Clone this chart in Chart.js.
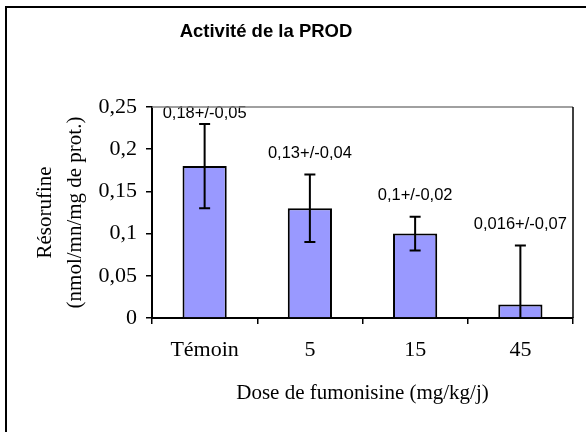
<!DOCTYPE html>
<html>
<head>
<meta charset="utf-8">
<script src="https://cdn.jsdelivr.net/npm/chart.js@4/dist/chart.umd.min.js"></script>
<style>
  html, body { margin: 0; padding: 0; background: #fff; }
  #wrap { width: 586px; height: 432px; position: relative; }
</style>
</head>
<body>
<div id="wrap"><canvas id="prod"></canvas></div>
<script>
// PROD activity per fumonisin dose
const doses = ['Témoin', '5', '15', '45'];
const means = [0.18, 0.13, 0.1, 0.016];
const errs = [0.05, 0.04, 0.02, 0.07];
const meanLabels = ['0,18+/-0,05', '0,13+/-0,04', '0,1+/-0,02', '0,016+/-0,07'];
const yTicks = [0, 0.05, 0.1, 0.15, 0.2, 0.25];
const chartTitle = 'Activité de la PROD';

const serif = 'Liberation Serif, Times New Roman, serif';
const sans = 'Liberation Sans, Arial, sans-serif';

// frame round the whole picture, title, box edges of the plot
const framePlugin = {
    id: 'frame',
    beforeDraw(chart) {
        const ctx = chart.ctx;
        ctx.save();
        ctx.fillStyle = '#fff';
        ctx.fillRect(0, 0, chart.width, chart.height);
        ctx.strokeStyle = '#000';
        ctx.lineWidth = 2;
        ctx.beginPath();
        ctx.moveTo(6, chart.height);
        ctx.lineTo(6, 7);
        ctx.lineTo(chart.width, 7);
        ctx.stroke();
        ctx.fillStyle = '#000';
        ctx.font = 'bold 18.5px ' + sans;
        ctx.textAlign = 'center';
        ctx.textBaseline = 'middle';
        ctx.fillText(chartTitle, 266, 32);
        ctx.restore();
    },
    afterDraw(chart) {
        const a = chart.chartArea, ctx = chart.ctx;
        ctx.save();
        ctx.lineWidth = 1.5;
        ctx.strokeStyle = '#808080';
        ctx.beginPath();
        ctx.moveTo(a.left, a.top);
        ctx.lineTo(a.right, a.top);
        ctx.stroke();
        ctx.strokeStyle = '#000';
        ctx.beginPath();
        ctx.moveTo(a.right, a.top);
        ctx.lineTo(a.right, a.bottom);
        ctx.stroke();
        ctx.restore();
    }
};

// error bars and the "mean+/-sd" text
const errorPlugin = {
    id: 'errbars',
    afterDatasetsDraw(chart) {
        const ctx = chart.ctx, y = chart.scales.y, a = chart.chartArea;
        const meta = chart.getDatasetMeta(0);
        ctx.save();
        ctx.strokeStyle = '#000';
        ctx.lineWidth = 2;
        meta.data.forEach((bar, i) => {
            const hi = means[i] + errs[i];
            const lo = Math.max(0, means[i] - errs[i]);
            const yHi = y.getPixelForValue(hi);
            const yLo = y.getPixelForValue(lo);
            ctx.beginPath();
            ctx.moveTo(bar.x, yHi);
            ctx.lineTo(bar.x, yLo);
            ctx.moveTo(bar.x - 5.5, yHi);
            ctx.lineTo(bar.x + 5.5, yHi);
            if (means[i] - errs[i] > 0) {
                ctx.moveTo(bar.x - 5.5, yLo);
                ctx.lineTo(bar.x + 5.5, yLo);
            }
            ctx.stroke();

            ctx.fillStyle = '#000';
            ctx.font = '16.5px ' + sans;
            ctx.textAlign = 'center';
            ctx.textBaseline = 'middle';
            const ty = Math.max(a.top + 6, yHi - 21);
            ctx.fillText(meanLabels[i], bar.x, ty);
        });
        ctx.restore();
    }
};

new Chart('prod', {
    type: 'bar',
    data: {
        labels: doses,
        datasets: [{
            data: means,
            backgroundColor: '#9999ff',
            borderColor: '#000',
            borderWidth: 2,
            barPercentage: 0.42,
            categoryPercentage: 1
        }]
    },
    plugins: [framePlugin, errorPlugin],
    options: {
        responsive: true,
        maintainAspectRatio: false,
        animation: false,
        layout: { padding: { left: 0, right: 13, top: 107, bottom: 0 } },
        plugins: {
            legend: { display: false },
            tooltip: { enabled: false },
            title: { display: false }
        },
        scales: {
            x: {
                afterFit(s) { s.height = 114; },
                grid: { offset: true, drawOnChartArea: false, color: '#000', tickLength: 6, lineWidth: 1.5 },
                border: { color: '#000', width: 2 },
                ticks: { color: '#000', padding: 13, font: { family: serif, size: 22, lineHeight: 1.2 } },
                title: {
                    display: true,
                    text: 'Dose de fumonisine (mg/kg/j)',
                    color: '#000',
                    font: { family: serif, size: 21, lineHeight: 1.2 },
                    padding: { top: 0, bottom: 26 }
                }
            },
            y: {
                min: 0,
                max: 0.25,
                afterFit(s) { s.width = 152; },
                afterBuildTicks(s) { s.ticks = yTicks.map(v => ({ value: v })); },
                grid: { drawOnChartArea: false, color: '#000', tickLength: 6, lineWidth: 1.5 },
                border: { color: '#000', width: 2 },
                ticks: {
                    color: '#000',
                    padding: 9,
                    font: { family: serif, size: 22 },
                    callback: v => String(Math.round(v * 100) / 100).replace('.', ',')
                },
                title: {
                    display: true,
                    text: ['Résorufine', '(nmol/mn/mg de prot.)'],
                    color: '#000',
                    font: { family: serif, size: 21, lineHeight: 1.43 },
                    padding: { top: 30, bottom: 0 }
                }
            }
        }
    }
});
</script>
</body>
</html>
